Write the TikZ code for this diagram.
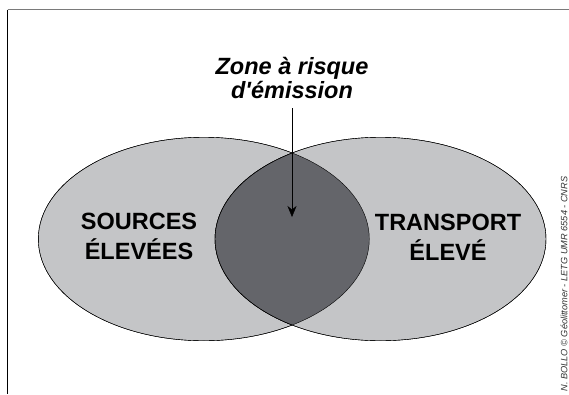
\documentclass[tikz,border=0pt]{standalone}
\usepackage{fontspec}
\setmainfont[Ligatures=TeXOff]{Liberation Sans}
\usetikzlibrary{shapes.geometric}
\usetikzlibrary{arrows.meta}
\definecolor{zonelight}{RGB}{196,197,199}
\definecolor{zonedark}{RGB}{100,101,106}
\definecolor{framegray}{RGB}{122,122,122}
\tikzset{
    zone/.style = {ellipse, thin, draw=black, fill=zonelight, minimum width=331pt, minimum height=203.5pt, inner sep=0pt},
    zonetext/.style = {align=center, font=\bfseries\fontsize{23.5}{30}\selectfont},
    risktext/.style = {align=center, font=\bfseries\itshape\fontsize{23.5}{22}\selectfont},
    credit/.style = {rotate=90, inner sep=0pt, font=\itshape\fontsize{9.2}{10}\selectfont, text=black!80},
    edgea/.style = {-{Stealth[length=11pt,width=9pt]}, thin},
}

\begin{document}
\begin{tikzpicture}[x=1pt,y=-1pt]
\useasboundingbox (0,0) rectangle (569,394);
% frame
\coordinate (tl) at (7.5,9.5);
\coordinate (tr) at (569,9.5);
\coordinate (bl) at (7.5,394);
\draw[framegray, line width=1.5pt] (tl) -- (tr);
\draw[black, line width=1pt] (tl) -- (bl);
%
\node[zone] at (203.8,239) (src) {};
\node[zone] at (380.5,239) (trn) {};
\begin{scope}
\clip (203.8,239) ellipse [x radius=165.5, y radius=101.75];
\fill[zonedark, draw=black, thin] (380.5,239) ellipse [x radius=165.5, y radius=101.75];
\end{scope}
\draw[thin] (203.8,239) ellipse [x radius=165.5, y radius=101.75];
\draw[thin] (380.5,239) ellipse [x radius=165.5, y radius=101.75];
%
\node[zonetext] at (139,236) (srclabel) {SOURCES\\ÉLEVÉES};
\node[zonetext] at (448,237) (trnlabel) {TRANSPORT\\ÉLEVÉ};
\node[risktext] at (292,78) (risk) {Zone à risque\\d'émission};
\coordinate (tip) at (292,217);
\draw[edgea] (292,108) -- (tip);
%
\node[credit] at (564,284) (cred) {N. BOLLO © Géolittomer - LETG UMR 6554 - CNRS};
\end{tikzpicture}
\end{document}
